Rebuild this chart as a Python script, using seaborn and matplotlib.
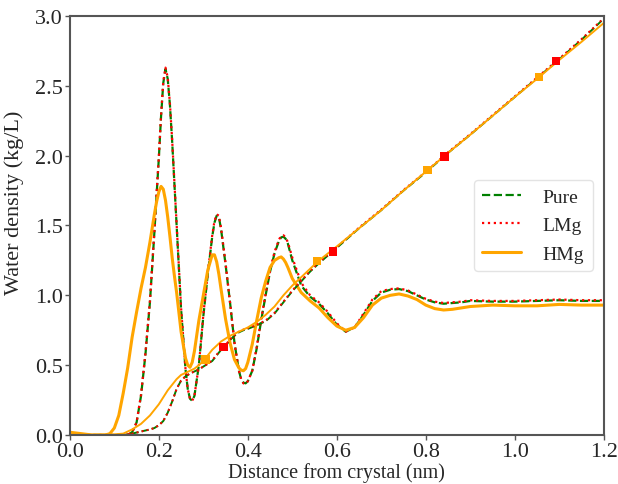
import numpy as np
import pandas as pd
import matplotlib
matplotlib.use("Agg")
import matplotlib.pyplot as plt
import seaborn as sns

# ---------------- data ----------------
dist = [0.00, 0.05, 0.08, 0.09, 0.10, 0.11, 0.12, 0.13, 0.14, 0.15,
        0.16, 0.17, 0.18, 0.19, 0.195, 0.20, 0.205, 0.21, 0.215, 0.22,
        0.225, 0.23, 0.235, 0.24, 0.25, 0.26, 0.265, 0.27, 0.275, 0.28,
        0.29, 0.30, 0.31, 0.32, 0.325, 0.33, 0.335, 0.34, 0.35, 0.36,
        0.37, 0.38, 0.385, 0.39, 0.395, 0.40, 0.41, 0.42, 0.43, 0.44,
        0.45, 0.46, 0.47, 0.475, 0.48, 0.485, 0.49, 0.50, 0.52, 0.54,
        0.56, 0.58, 0.60, 0.62, 0.64, 0.66, 0.68, 0.70, 0.72, 0.74,
        0.76, 0.78, 0.80, 0.82, 0.84, 0.86, 0.88, 0.90, 0.95, 1.00,
        1.05, 1.10, 1.15, 1.20]

pure_density = [0.00, 0.00, 0.00, 0.00, 0.00, 0.00, 0.00, 0.00, 0.02, 0.09,
                0.28, 0.58, 0.95, 1.45, 1.72, 1.98, 2.28, 2.52, 2.62, 2.55,
                2.36, 2.10, 1.80, 1.50, 0.90, 0.47, 0.33, 0.26, 0.245, 0.28,
                0.50, 0.85, 1.15, 1.42, 1.52, 1.57, 1.56, 1.47, 1.22, 0.95,
                0.66, 0.46, 0.40, 0.375, 0.37, 0.385, 0.46, 0.62, 0.82, 1.00,
                1.17, 1.30, 1.39, 1.415, 1.42, 1.405, 1.37, 1.25, 1.07, 0.99,
                0.94, 0.87, 0.79, 0.74, 0.77, 0.86, 0.96, 1.02, 1.04, 1.045,
                1.03, 1.00, 0.97, 0.95, 0.94, 0.945, 0.95, 0.96, 0.955, 0.955,
                0.96, 0.965, 0.96, 0.96]

lmg_density = [0.00, 0.00, 0.00, 0.00, 0.00, 0.00, 0.00, 0.00, 0.02, 0.09,
               0.29, 0.59, 0.96, 1.46, 1.73, 1.99, 2.29, 2.53, 2.63, 2.56,
               2.37, 2.11, 1.81, 1.51, 0.91, 0.47, 0.33, 0.26, 0.245, 0.28,
               0.50, 0.86, 1.16, 1.43, 1.53, 1.58, 1.57, 1.48, 1.23, 0.95,
               0.66, 0.46, 0.40, 0.37, 0.365, 0.385, 0.46, 0.63, 0.83, 1.01,
               1.18, 1.31, 1.40, 1.425, 1.43, 1.415, 1.38, 1.27, 1.09, 1.00,
               0.95, 0.88, 0.80, 0.74, 0.77, 0.87, 0.97, 1.03, 1.045, 1.05,
               1.035, 1.005, 0.975, 0.955, 0.945, 0.95, 0.955, 0.965, 0.96, 0.96,
               0.965, 0.97, 0.965, 0.965]

hmg_density = [0.02, 0.00, 0.00, 0.01, 0.05, 0.14, 0.30, 0.48, 0.70, 0.88,
               1.05, 1.20, 1.38, 1.58, 1.67, 1.74, 1.78, 1.76, 1.68, 1.56,
               1.42, 1.27, 1.14, 1.02, 0.74, 0.55, 0.50, 0.485, 0.52, 0.60,
               0.82, 1.00, 1.18, 1.29, 1.29, 1.24, 1.15, 1.04, 0.83, 0.66,
               0.54, 0.48, 0.465, 0.46, 0.475, 0.52, 0.65, 0.82, 0.98, 1.10,
               1.20, 1.25, 1.27, 1.275, 1.26, 1.235, 1.20, 1.12, 1.02, 0.96,
               0.91, 0.84, 0.78, 0.75, 0.77, 0.84, 0.93, 0.98, 1.00, 1.01,
               0.995, 0.97, 0.93, 0.905, 0.895, 0.90, 0.91, 0.92, 0.93, 0.925,
               0.925, 0.935, 0.93, 0.93]

cum_dist = [0.00, 0.10, 0.12, 0.14, 0.16, 0.18, 0.19, 0.20, 0.21, 0.22,
            0.23, 0.24, 0.25, 0.26, 0.27, 0.28, 0.29, 0.30, 0.31, 0.32,
            0.33, 0.34, 0.35, 0.36, 0.37, 0.38, 0.39, 0.40, 0.42, 0.44,
            0.46, 0.48, 0.50, 0.52, 0.54, 0.56, 0.58, 0.60, 0.65, 0.70,
            0.75, 0.80, 0.85, 0.90, 0.95, 1.00, 1.05, 1.10, 1.15, 1.20]

pure_cum = [0.00, 0.00, 0.00, 0.01, 0.025, 0.04, 0.05, 0.07, 0.10, 0.16,
            0.24, 0.33, 0.39, 0.42, 0.44, 0.455, 0.47, 0.49, 0.51, 0.53,
            0.57, 0.61, 0.64, 0.68, 0.71, 0.735, 0.75, 0.76, 0.785, 0.815,
            0.87, 0.95, 1.03, 1.10, 1.17, 1.23, 1.285, 1.34, 1.48, 1.61,
            1.75, 1.88, 2.02, 2.15, 2.285, 2.42, 2.555, 2.69, 2.83, 2.98]

lmg_cum = [0.00, 0.00, 0.00, 0.01, 0.025, 0.04, 0.05, 0.07, 0.10, 0.16,
           0.24, 0.33, 0.39, 0.42, 0.44, 0.455, 0.47, 0.49, 0.51, 0.535,
           0.575, 0.615, 0.645, 0.685, 0.715, 0.74, 0.755, 0.765, 0.79, 0.82,
           0.875, 0.955, 1.035, 1.105, 1.175, 1.235, 1.29, 1.345, 1.485, 1.615,
           1.755, 1.885, 2.025, 2.155, 2.29, 2.425, 2.56, 2.695, 2.835, 2.985]

hmg_cum = [0.00, 0.005, 0.01, 0.04, 0.08, 0.14, 0.18, 0.22, 0.27, 0.32,
           0.36, 0.40, 0.43, 0.445, 0.46, 0.475, 0.50, 0.53, 0.57, 0.61,
           0.64, 0.67, 0.69, 0.71, 0.725, 0.74, 0.755, 0.77, 0.81, 0.86,
           0.92, 1.00, 1.07, 1.13, 1.19, 1.25, 1.30, 1.35, 1.48, 1.61,
           1.75, 1.885, 2.02, 2.15, 2.285, 2.42, 2.55, 2.685, 2.815, 2.95]

lmg_marker_x = [0.345, 0.592, 0.842, 1.092]
lmg_marker_y = [0.63, 1.315, 1.995, 2.68]
hmg_marker_x = [0.305, 0.556, 0.804, 1.054]
hmg_marker_y = [0.54, 1.245, 1.895, 2.565]

labels = ["Pure", "LMg", "HMg"]
colors = ["green", "red", "orange"]
styles = ["--", ":", "-"]

# ---------------- plotting ----------------
sns.set_style("white")
plt.rcParams["font.family"] = ["Liberation Serif", "DejaVu Serif"]
plt.rcParams["mathtext.fontset"] = "stix"

fig, ax = plt.subplots(figsize=(6.18, 4.85), dpi=100)
fig.subplots_adjust(left=0.113, right=0.977, top=0.965, bottom=0.101)

dens = [pure_density, lmg_density, hmg_density]
cums = [pure_cum, lmg_cum, hmg_cum]
widths = [1.6, 1.6, 2.2]

for y, lab, c, ls, lw in zip(dens, labels, colors, styles, widths):
    sns.lineplot(x=dist, y=y, ax=ax, color=c, linestyle=ls, linewidth=lw, label=lab)

for y, c, ls in zip(cums, colors, styles):
    sns.lineplot(x=cum_dist, y=y, ax=ax, color=c, linestyle=ls, linewidth=1.4, legend=False)

sns.scatterplot(x=hmg_marker_x, y=hmg_marker_y, ax=ax, color="orange", marker="s",
                s=36, edgecolor="none", zorder=5, legend=False)
sns.scatterplot(x=lmg_marker_x, y=lmg_marker_y, ax=ax, color="red", marker="s",
                s=36, edgecolor="none", zorder=5, legend=False)

ax.set_xlim(0, 1.2)
ax.set_ylim(0, 3.0)
ax.set_xticks([0.0, 0.2, 0.4, 0.6, 0.8, 1.0, 1.2])
ax.set_yticks([0.0, 0.5, 1.0, 1.5, 2.0, 2.5, 3.0])
ax.set_xticklabels(["0.0", "0.2", "0.4", "0.6", "0.8", "1.0", "1.2"])
ax.set_yticklabels(["0.0", "0.5", "1.0", "1.5", "2.0", "2.5", "3.0"])
ax.tick_params(axis="both", labelsize=16, direction="out", length=3.5, width=1,
               color="#555555", pad=1.5, bottom=True, left=True)
ax.set_xlabel("Distance from crystal (nm)", fontsize=14.5, labelpad=1)
ax.set_ylabel("Water density (kg/L)", fontsize=16, labelpad=3)
ax.yaxis.set_label_coords(-0.085, 0.556)
for sp in ax.spines.values():
    sp.set_visible(True)
    sp.set_color("#555555")
    sp.set_linewidth(1.5)

leg = ax.legend(loc="center right", bbox_to_anchor=(0.998, 0.5), fontsize=14,
                frameon=True, handlelength=2.0, handletextpad=1.1, borderpad=0.45,
                labelspacing=0.55)
leg.get_frame().set_edgecolor("#dddddd")

fig.savefig("out.png", dpi=100)
